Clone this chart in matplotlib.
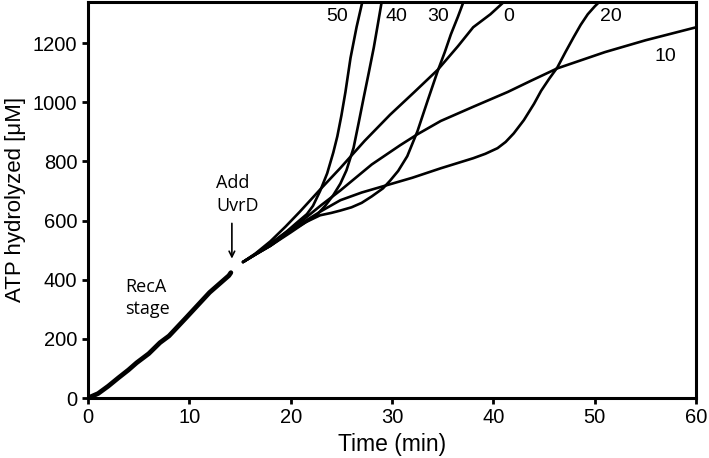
import matplotlib
matplotlib.use("Agg")
import matplotlib.pyplot as plt

plt.rcParams['font.family'] = ['Liberation Sans', 'DejaVu Sans']

# RecA stage (before UvrD addition)
recaTime = [0, 1, 2, 3, 4, 4.8, 6, 7.1, 8, 9.7, 12, 13.5, 13.9, 14.1]
recaAtp = [0, 15, 40, 68, 95, 119, 150, 187, 210, 272, 357, 402, 414, 424]

# traces after UvrD addition, keyed by label
uvrdTraces = {
    "50": ([15.3, 16.5, 18, 19.5, 20.5, 21.6, 22.2, 22.9, 23.6, 24.2, 24.6, 25.0, 25.4, 25.9, 26.5, 27.1],
           [460, 485, 520, 560, 590, 622, 650, 700, 760, 830, 885, 955, 1035, 1150, 1255, 1345]),
    "40": ([15.3, 16.5, 18, 20, 21.5, 22.6, 23.4, 24.2, 24.9, 25.5, 26.2, 26.7, 27.2, 27.7, 28.2, 28.6, 29.0],
           [460, 485, 515, 565, 595, 620, 650, 686, 725, 770, 846, 930, 1016, 1100, 1186, 1265, 1345]),
    "30": ([15.3, 16.5, 18, 20, 21.5, 22.9, 24.0, 24.9, 26, 27, 28, 29.1, 29.8, 30.6, 31.5, 32.5, 33.5, 34.5, 35.2, 35.8, 36.5, 37.1],
           [460, 485, 515, 560, 595, 618, 626, 634, 645, 660, 682, 709, 735, 768, 818, 902, 1005, 1106, 1170, 1230, 1290, 1345]),
    "0": ([15.3, 16.5, 18, 19.5, 20.9, 22.9, 24.9, 27.3, 29.8, 32.2, 34.5, 36.5, 38.0, 39.7, 41.2],
          [460, 488, 530, 580, 630, 705, 778, 870, 958, 1035, 1110, 1190, 1254, 1298, 1345]),
    "20": ([15.3, 16.5, 18, 20, 21.5, 22.9, 24.9, 27, 29.1, 32, 34.8, 38, 39.2, 40.4, 41.2, 42, 43, 44, 44.7, 45.5, 46.3, 47.1, 47.9, 48.6, 49.3, 50.0, 50.6],
           [460, 485, 515, 565, 600, 630, 669, 695, 716, 745, 777, 811, 826, 845, 866, 895, 940, 995, 1039, 1080, 1118, 1170, 1220, 1262, 1298, 1325, 1345]),
    "10": ([15.3, 16.5, 18, 19.5, 21, 23, 24.9, 28, 30.8, 32.5, 34.8, 38, 41.4, 43.7, 46.3, 51, 55, 60],
           [460, 487, 522, 560, 596, 652, 702, 790, 855, 892, 937, 985, 1035, 1073, 1115, 1170, 1210, 1254]),
}

labelPos = {"50": (24.6, 1291), "40": (30.4, 1291), "30": (34.5, 1291),
            "0": (41.5, 1291), "20": (51.6, 1291), "10": (57.0, 1155)}

fig = plt.figure(figsize=(7.09, 4.58), dpi=100)
ax = fig.add_axes([0.124, 0.131, 0.858, 0.865])

ax.plot(recaTime, recaAtp, color='k', lw=3.4, solid_capstyle='round')
for name in uvrdTraces:
    t, y = uvrdTraces[name]
    ax.plot(t, y, color='k', lw=1.9, solid_capstyle='round')
    ax.text(labelPos[name][0], labelPos[name][1], name, fontsize=14, ha='center', va='center')

annFont = ['Open Sans', 'DejaVu Sans']
ax.text(3.66, 358, "RecA", fontsize=13, family=annFont, ha='left', va='baseline')
ax.text(3.66, 284, "stage", fontsize=13, family=annFont, ha='left', va='baseline')
ax.text(12.65, 709, "Add", fontsize=13, family=annFont, ha='left', va='baseline')
ax.text(12.65, 631, "UvrD", fontsize=13, family=annFont, ha='left', va='baseline')
ax.annotate("", xy=(14.2, 462), xytext=(14.2, 600),
            arrowprops=dict(arrowstyle='->', color='k', lw=1.2))

ax.set_xlim(0, 60)
ax.set_ylim(0, 1340)
ax.set_xticks([0, 10, 20, 30, 40, 50, 60])
ax.set_yticks([0, 200, 400, 600, 800, 1000, 1200])
ax.tick_params(direction='out', length=4, width=2, labelsize=14.5)
for s in ax.spines.values():
    s.set_linewidth(2.2)
ax.set_xlabel("Time (min)", fontsize=16.5, labelpad=4)
ax.set_ylabel("ATP hydrolyzed [μM]", fontsize=16, labelpad=5)

fig.savefig("out.png", dpi=100)
